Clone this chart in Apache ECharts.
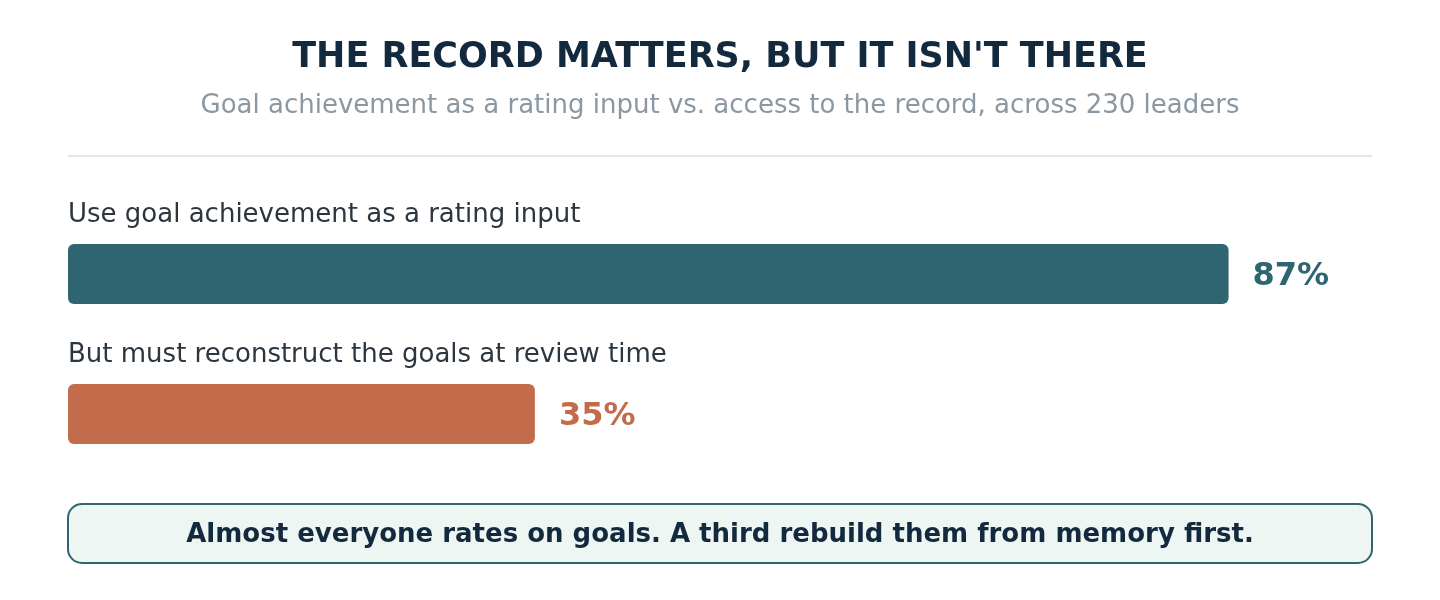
<!DOCTYPE html>
<html lang="en">

<head>
    <meta charset="UTF-8">
    <title>The record matters, but it isn't there</title>
    <script src="https://cdn.jsdelivr.net/npm/echarts@6/dist/echarts.min.js"></script>
    <style>
        html, body { margin: 0; padding: 0; background: #fff; }
    </style>
</head>

<body>
    <div id="main" style="width: 1440px;height: 600px"></div>
    <script type="text/javascript">
        var categories = ['Use goal achievement as a rating input', 'But must reconstruct the goals at review time'];
        var values = [87, 35];
        var barColors = ['#2f6571', '#c26c4b'];
        var takeaway = 'Almost everyone rates on goals. A third rebuild them from memory first.';

        var font = '"DejaVu Sans", Verdana, sans-serif';
        var myChart = echarts.init(document.getElementById('main'));

        var option = {
            backgroundColor: '#ffffff',
            animation: false,
            title: {
                text: "THE RECORD MATTERS, BUT IT ISN'T THERE",
                subtext: 'Goal achievement as a rating input vs. access to the record, across 230 leaders',
                left: 'center',
                top: 35,
                itemGap: 18,
                textStyle: { fontFamily: font, fontSize: 35, fontWeight: 'bold', color: '#13293d' },
                subtextStyle: { fontFamily: font, fontSize: 26, color: '#8a98a3' }
            },
            grid: { left: 68, right: 38, top: 204, height: 280 },
            xAxis: { type: 'value', min: 0, max: 100, show: false },
            yAxis: {
                type: 'category',
                data: categories,
                inverse: true,
                show: false
            },
            series: [{
                type: 'bar',
                barWidth: 60,
                data: values.map(function (v, i) {
                    return {
                        value: v,
                        itemStyle: { color: barColors[i], borderRadius: 6 },
                        label: { color: barColors[i] }
                    };
                }),
                label: {
                    show: true,
                    position: 'right',
                    distance: 24,
                    offset: [0, 3],
                    formatter: '{c}%',
                    fontFamily: font,
                    fontSize: 32,
                    fontWeight: 'bold'
                }
            }, {
                // category names sit above each bar
                type: 'bar',
                barWidth: 60,
                barGap: '-100%',
                silent: true,
                itemStyle: { color: 'transparent' },
                data: values,
                label: {
                    show: true,
                    position: [0, -29],
                    align: 'left',
                    verticalAlign: 'middle',
                    formatter: '{b}',
                    fontFamily: font,
                    fontSize: 26,
                    color: '#2b3640'
                }
            }],
            graphic: [
                {
                    type: 'line',
                    shape: { x1: 68, y1: 156, x2: 1372, y2: 156 },
                    style: { stroke: '#e3e6ea', lineWidth: 2 }
                },
                {
                    type: 'rect',
                    shape: { x: 68, y: 504, width: 1304, height: 59, r: 14 },
                    style: { fill: '#eef6f3', stroke: '#2f6571', lineWidth: 2 }
                },
                {
                    type: 'text',
                    x: 720,
                    y: 535,
                    style: {
                        text: takeaway,
                        fontFamily: font,
                        fontSize: 26,
                        fontWeight: 'bold',
                        fill: '#13293d',
                        align: 'center',
                        verticalAlign: 'middle'
                    }
                }
            ]
        };
        myChart.setOption(option);
    </script>
</body>

</html>
